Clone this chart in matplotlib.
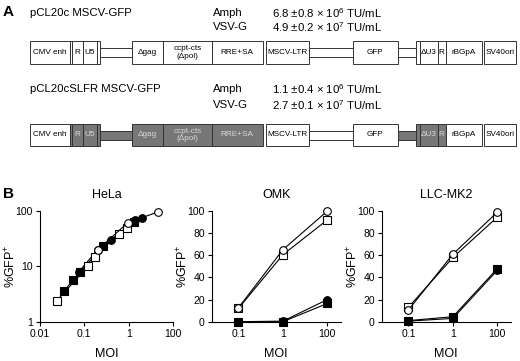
import numpy as np
import matplotlib
matplotlib.use('Agg')
import matplotlib.pyplot as plt
from matplotlib.patches import Rectangle

plt.rcParams['font.family'] = ['Liberation Sans', 'DejaVu Sans']
plt.rcParams['mathtext.fontset'] = 'custom'
plt.rcParams['mathtext.rm'] = 'Liberation Sans'
plt.rcParams['mathtext.default'] = 'regular'

# ---- datos panel A (titulos virales) ----
vectors = ['pCL20c MSCV-GFP', 'pCL20cSLFR MSCV-GFP']
envelopes = ['Amph', 'VSV-G']
titers = [['6.8 ±0.8 × 10$^{6}$ TU/mL', '4.9 ±0.2 × 10$^{7}$ TU/mL'],
          ['1.1 ±0.4 × 10$^{6}$ TU/mL', '2.7 ±0.1 × 10$^{7}$ TU/mL']]

# ---- datos panel B ----
# HeLa (eje log)
hela_fsq_x = [0.035, 0.055, 0.08, 0.27, 1.3]
hela_fsq_y = [3.6, 5.6, 8, 23, 64]
hela_fci_x = [0.075, 0.2, 0.4, 1.4, 2.0]
hela_fci_y = [8, 20, 30, 68, 75]
hela_osq_x = [0.024, 0.12, 0.17, 0.6, 0.92]
hela_osq_y = [2.4, 10, 15, 39, 50]
hela_oci_x = [0.2, 0.95, 4.7]
hela_oci_y = [20, 61, 97]

moi_labels = ['0.1', '1', '100']
omk_oci = [12.5, 65, 100]
omk_osq = [12, 60.5, 92]
omk_fci = [0, 0.5, 20]
omk_fsq = [0, 0, 16.5]
llc_osq = [13, 58, 94.5]
llc_oci = [10.5, 61, 99]
llc_fsq = [1, 4.5, 48]
llc_fci = [0.5, 3, 46.5]

W, H = 520, 361
fig = plt.figure(figsize=(W / 100, H / 100), dpi=100)

# capa en pixeles para el panel A
ov = fig.add_axes([0, 0, 1, 1])
ov.set_xlim(0, W)
ov.set_ylim(H, 0)
ov.axis('off')

GRAY = '#777777'
EDGE = '#333333'

# segmentos: (x0, x1, texto, tipo, gris en la fila 2)
segs = [
    (30, 69.5, 'CMV enh', 'box', False),
    (69.5, 72, '', 'box', True),
    (72, 83, 'R', 'box', True),
    (83, 97, 'U5', 'box', True),
    (97, 100, '', 'box', True),
    (100, 132, '', 'link', True),
    (132, 163, 'Δgag', 'box', True),
    (163, 212, 'ccpt-cts\n(Δpol)', 'box', True),
    (212, 262.5, 'RRE+SA', 'box', True),
    (266, 309, 'MSCV-LTR', 'box', False),
    (309, 352.5, '', 'link', False),
    (352.5, 398, 'GFP', 'box', False),
    (398, 415.5, '', 'link', True),
    (415.5, 419.5, '', 'box', True),
    (419.5, 437.5, 'ΔU3', 'box', True),
    (437.5, 446, 'R', 'box', True),
    (446, 481.5, 'rBGpA', 'box', False),
    (483.5, 516, 'SV40ori', 'box', False),
]

rows = [(41, 64, 13, 27), (124, 146, 89, 105)]
for r, (y0, y1, t1, t2) in enumerate(rows):
    ov.text(30, t1, vectors[r], fontsize=8.2, va='center', ha='left')
    ov.text(213, t1, envelopes[0], fontsize=8.2, va='center')
    ov.text(213, t2, envelopes[1], fontsize=8.2, va='center')
    ov.text(272, t1, titers[r][0], fontsize=8.2, va='center')
    ov.text(272, t2, titers[r][1], fontsize=8.2, va='center')
    for x0, x1, lab, kind, g in segs:
        gray = (r == 1 and g)
        fc = GRAY if gray else 'white'
        if kind == 'box':
            ov.add_patch(Rectangle((x0, y0), x1 - x0, y1 - y0, fc=fc, ec=EDGE, lw=0.7))
        else:
            ym = (y0 + y1) / 2
            ov.add_patch(Rectangle((x0, ym - 4.5), x1 - x0, 9, fc=fc, ec=EDGE, lw=0.7))
        if lab:
            ov.text((x0 + x1) / 2, (y0 + y1) / 2, lab, fontsize=5.9, ha='center', va='center',
                    color='#d8d8d8' if gray else 'black', linespacing=1.0)

ov.text(3, 12, 'A', fontsize=11, fontweight='bold', va='center')
ov.text(3, 194, 'B', fontsize=11, fontweight='bold', va='center')

def style(ax):
    for s in ['top', 'right']:
        ax.spines[s].set_visible(False)
    ax.spines['left'].set_linewidth(0.8)
    ax.spines['bottom'].set_linewidth(0.8)
    ax.tick_params(labelsize=7.5, width=0.8, length=3, pad=2)
    ax.minorticks_off()
    ax.patch.set_alpha(0)

kw_o = dict(color='black', lw=0.8, mfc='white', mec='black', mew=0.8, ms=5.5, clip_on=False)
kw_f = dict(color='black', lw=0.8, mfc='black', mec='black', mew=0.8, ms=5.5, clip_on=False)

bot = (H - 321.7) / H
hgt = 110.7 / H

# HeLa
ax1 = fig.add_axes([40 / W, bot, 133 / W, hgt])
ax1.set_xscale('log')
ax1.set_yscale('log')
ax1.plot(hela_fsq_x, hela_fsq_y, marker='s', **kw_f)
ax1.plot(hela_fci_x, hela_fci_y, marker='o', **kw_f)
ax1.plot(hela_osq_x, hela_osq_y, marker='s', **kw_o)
ax1.plot(hela_oci_x, hela_oci_y, marker='o', **kw_o)
ax1.set_xlim(0.01, 10)
ax1.set_ylim(1, 100)
ax1.set_xticks([0.01, 0.1, 1, 10])
ax1.set_xticklabels(['0.01', '0.1', '1', '100'])
ax1.set_yticks([1, 10, 100])
ax1.set_yticklabels(['1', '10', '100'])
style(ax1)
ax1.set_title('HeLa', fontsize=9, pad=9)
ax1.set_ylabel('%GFP$^{+}$', fontsize=9)
ax1.yaxis.set_label_coords(-0.165, 0.5)
ax1.set_xlabel('MOI', fontsize=9, labelpad=7)

# OMK y LLC-MK2
pos = np.arange(len(moi_labels))
panels = [('OMK', 211.7, omk_oci, omk_osq, omk_fci, omk_fsq),
          ('LLC-MK2', 381.7, llc_oci, llc_osq, llc_fci, llc_fsq)]
for name, left, oci, osq, fci, fsq in panels:
    ax = fig.add_axes([left / W, bot, 129 / W, hgt])
    ax.plot(pos, fsq, marker='s', **kw_f)
    ax.plot(pos, fci, marker='o', **kw_f)
    ax.plot(pos, osq, marker='s', **kw_o)
    ax.plot(pos, oci, marker='o', **kw_o)
    ax.set_xlim(-0.6, 2.3)
    ax.set_ylim(0, 100)
    ax.set_xticks(pos)
    ax.set_xticklabels(moi_labels)
    ax.set_yticks(np.arange(0, 101, 20))
    style(ax)
    ax.set_title(name, fontsize=9, pad=9)
    ax.set_ylabel('%GFP$^{+}$', fontsize=9)
    ax.yaxis.set_label_coords(-0.165, 0.5)
    ax.set_xlabel('MOI', fontsize=9, labelpad=7)

fig.savefig('out.png', dpi=100)
